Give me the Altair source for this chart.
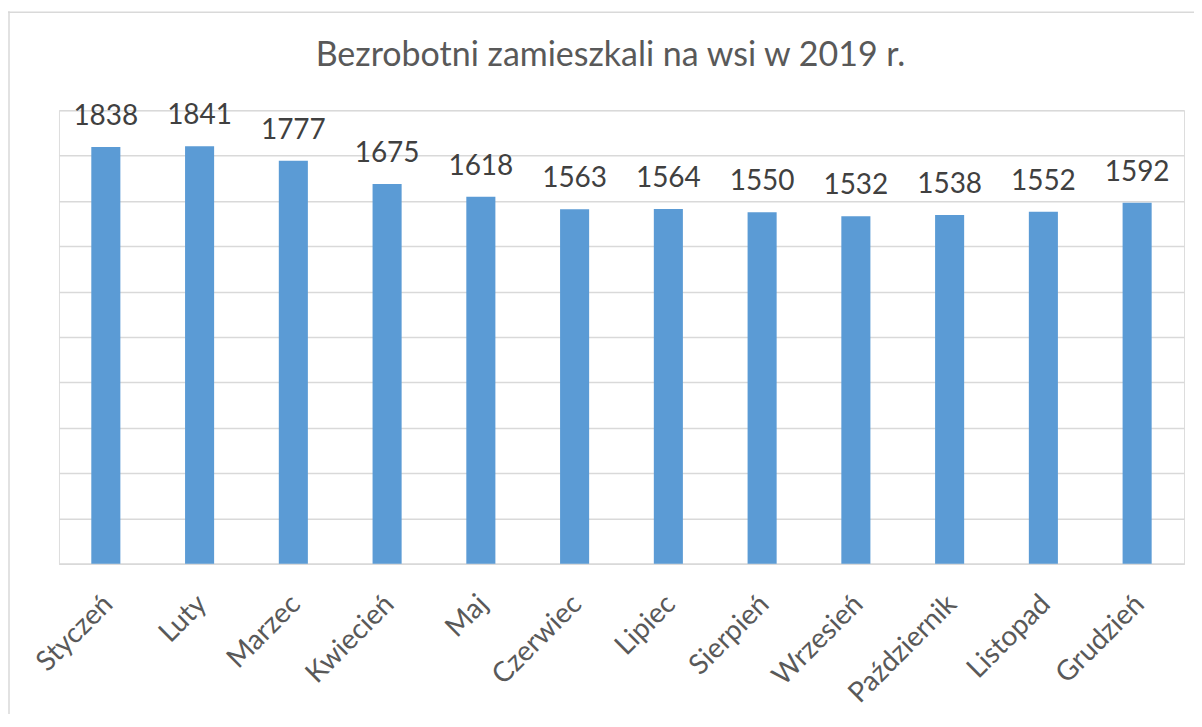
import altair as alt
import pandas as pd

months = ["Styczeń", "Luty", "Marzec", "Kwiecień", "Maj", "Czerwiec", "Lipiec",
          "Sierpień", "Wrzesień", "Październik", "Listopad", "Grudzień"]
values = [1838, 1841, 1777, 1675, 1618, 1563, 1564, 1550, 1532, 1538, 1552, 1592]
title_text = "Bezrobotni zamieszkali na wsi w 2019 r."
grid_values = [0, 200, 400, 600, 800, 1000, 1200, 1400, 1600, 1800, 2000]

df = pd.DataFrame({"miesiac": months, "wartosc": values})

FONT = "Lato"
W, H = 1126, 454

x_enc = alt.X("miesiac:N", sort=months,
              scale=alt.Scale(paddingInner=0.69, paddingOuter=0.345),
              axis=alt.Axis(title=None, labelAngle=-45, labelFontSize=28,
                            labelFont=FONT, labelColor="#595959", labelPadding=26,
                            labelOffset=-7,
                            ticks=False, domain=True, domainColor="#D9D9D9",
                            domainWidth=1.5, grid=False))
y_enc = alt.Y("wartosc:Q", scale=alt.Scale(domain=[0, 2000], nice=False),
              axis=alt.Axis(title=None, labels=False, ticks=False, domain=False,
                            grid=True, gridColor="#D9D9D9", gridWidth=1.5,
                            values=grid_values))

base = alt.Chart(df)
bars = base.mark_bar(color="#5B9BD5").encode(x=x_enc, y=y_enc)
labels = base.mark_text(font=FONT, fontSize=28, color="#404040", baseline="bottom",
                        dy=-16).encode(x=alt.X("miesiac:N", sort=months), y="wartosc:Q",
                                       text="wartosc:Q")

one = pd.DataFrame({"t": [title_text]})
title = alt.Chart(one).mark_text(font=FONT, fontSize=34, color="#595959",
                                 align="center", baseline="alphabetic").encode(
    x=alt.value(552), y=alt.value(-44), text="t:N")

border_top = alt.Chart(one).mark_rule(color="#D9D9D9", strokeWidth=1.5).encode(
    x=alt.value(-51), x2=alt.value(W + 200), y=alt.value(-98))
border_left = alt.Chart(one).mark_rule(color="#D9D9D9", strokeWidth=1.5).encode(
    x=alt.value(-50), y=alt.value(-99), y2=alt.value(H + 300))

chart = alt.layer(border_top, border_left, title, bars, labels).properties(
    width=W, height=H,
    autosize=alt.AutoSizeParams(type="none"),
    padding={"left": 51, "top": 102, "right": 10, "bottom": 150},
).configure_view(stroke=None).configure(background="white")

chart.save("out.html", embed_options={"renderer": "svg", "actions": False})
